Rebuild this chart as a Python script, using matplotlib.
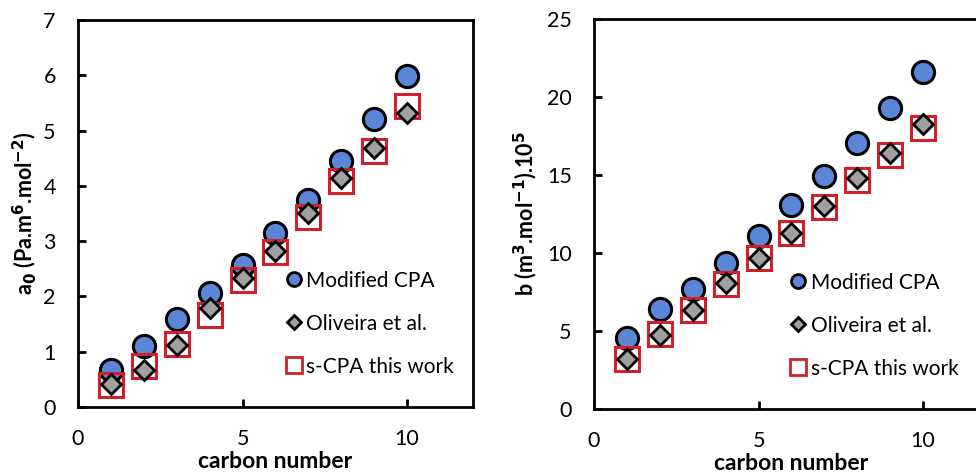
import matplotlib
matplotlib.use("Agg")
import matplotlib.pyplot as plt
import matplotlib.lines as mlines

carbon = [1, 2, 3, 4, 5, 6, 7, 8, 9, 10]

a0_modified = [0.66, 1.11, 1.60, 2.06, 2.57, 3.15, 3.75, 4.44, 5.20, 5.99]
a0_oliveira = [0.41, 0.67, 1.13, 1.79, 2.34, 2.82, 3.51, 4.14, 4.68, 5.32]
a0_scpa = [0.39, 0.75, 1.14, 1.66, 2.29, 2.81, 3.44, 4.08, 4.63, 5.45]

b_modified = [4.55, 6.40, 7.69, 9.39, 11.10, 13.09, 14.94, 17.08, 19.32, 21.63]
b_oliveira = [3.20, 4.76, 6.36, 8.11, 9.67, 11.27, 13.04, 14.79, 16.40, 18.25]
b_scpa = [3.20, 4.80, 6.32, 8.01, 9.67, 11.27, 12.94, 14.65, 16.29, 18.04]

labels = ["Modified CPA", "Oliveira et al.", "s-CPA this work"]

plt.rcParams['font.family'] = ['Lato', 'DejaVu Sans']

fig = plt.figure(figsize=(9.76, 4.74), dpi=100)
ax1 = fig.add_axes([0.0799, 0.1414, 0.4047, 0.8165])
ax2 = fig.add_axes([0.6086, 0.137, 0.4047, 0.823])

blue = '#5B86D8'
gray = '#A0A0A0'
red = '#D2202A'

def draw(ax, m, o, s, ylim, yticks, ylabel, ylabelpad, legx):
    ax.plot(carbon, m, 'o', ms=16, mfc=blue, mec='black', mew=2.2, ls='none', zorder=3)
    ax.plot(carbon, s, 's', ms=17, mfc='none', mec=red, mew=2.2, ls='none', zorder=4)
    ax.plot(carbon, o, 'D', ms=10, mfc=gray, mec='black', mew=2.0, ls='none', zorder=5)
    ax.set_xlim(0, 12)
    ax.set_ylim(*ylim)
    ax.set_xticks([0, 5, 10])
    ax.set_yticks(yticks)
    ax.tick_params(direction='in', length=6, width=2, labelsize=15.5, pad=16)
    for sp in ax.spines.values():
        sp.set_linewidth(2)
    ax.set_xlabel('carbon number', fontsize=16.5, fontweight='bold', labelpad=1)
    ax.set_ylabel(ylabel, fontsize=15.5, fontweight='bold', labelpad=ylabelpad)
    leg_handles = [
        mlines.Line2D([], [], marker='o', ms=10, mfc=blue, mec='black', mew=2, ls='none'),
        mlines.Line2D([], [], marker='D', ms=7, mfc=gray, mec='black', mew=2, ls='none'),
        mlines.Line2D([], [], marker='s', ms=11, mfc='none', mec=red, mew=2, ls='none'),
    ]
    ax.legend(leg_handles, labels, loc='lower right', frameon=False, fontsize=15,
              labelspacing=1.1, handletextpad=0.1, handlelength=1.0,
              bbox_to_anchor=(legx, 0.03))

draw(ax1, a0_modified, a0_oliveira, a0_scpa, (0, 7), range(0, 8),
     r'a$_\mathbf{0}$ (Pa.m$^\mathbf{6}$.mol$^\mathbf{-2}$)', 3, 1.0)
draw(ax2, b_modified, b_oliveira, b_scpa, (0, 25), range(0, 26, 5),
     r'b (m$^\mathbf{3}$.mol$^\mathbf{-1}$).10$^\mathbf{5}$', 5, 0.97)

fig.savefig('out.png', dpi=100)
